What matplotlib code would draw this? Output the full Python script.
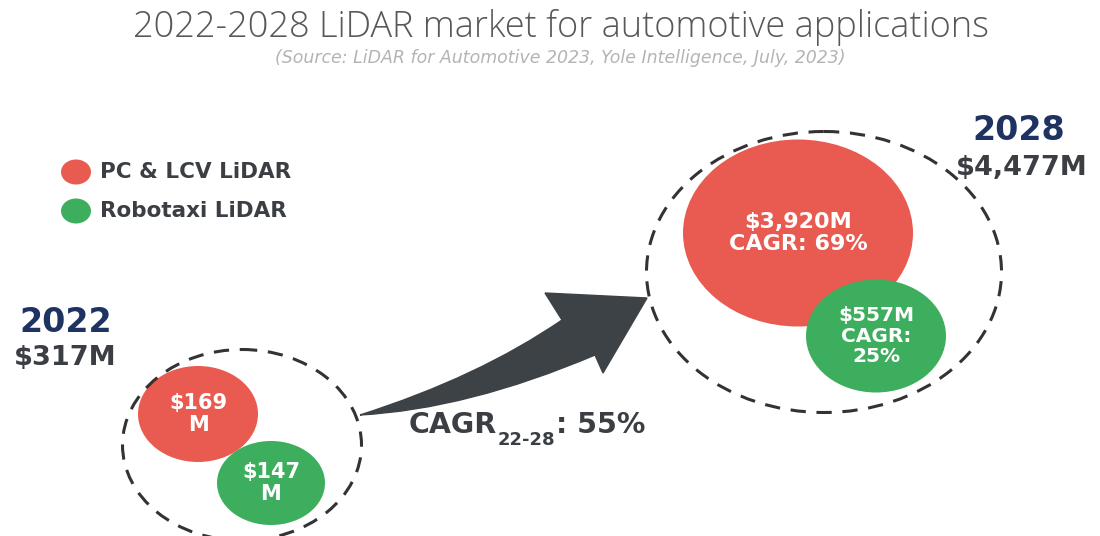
import matplotlib
matplotlib.use("Agg")
import matplotlib.pyplot as plt
from matplotlib.patches import Ellipse, PathPatch
from matplotlib.path import Path

# ---- data ----
segments = ["PC & LCV LiDAR", "Robotaxi LiDAR"]
years = ["2022", "2028"]
values_2022 = [169, 147]          # $M
values_2028 = [3920, 557]         # $M
totals = [317, 4477]              # $M
segment_cagr = [69, 25]           # %
total_cagr = 55                   # %
title = "2022-2028 LiDAR market for automotive applications"
source = "(Source: LiDAR for Automotive 2023, Yole Intelligence, July, 2023)"

# ---- style ----
RED = "#E95A50"
GREEN = "#3DAE5E"
NAVY = "#1E3362"
DARK = "#3B3F44"
DASH = "#333333"
BOLD_FONT = ["DejaVu Sans"]
LIGHT_FONT = ["Open Sans", "DejaVu Sans"]

fig = plt.figure(figsize=(11, 5.36), dpi=100)
ax = fig.add_axes([0, 0, 1, 1])
ax.set_xlim(0, 1100)
ax.set_ylim(536, 0)
ax.axis("off")

# title
ax.text(561, 28, title, ha="center", va="center", fontsize=26, color="#585858",
        family=LIGHT_FONT, fontweight="light")
ax.text(560, 58, source, ha="center", va="center", fontsize=12.5, color="#B4B4B4",
        family=["DejaVu Sans"], style="italic")

# legend
for i, (seg, col) in enumerate(zip(segments, [RED, GREEN])):
    y = 172 + i * 39
    ax.add_patch(Ellipse((76, y), 30, 25, color=col, lw=0))
    ax.text(100, y, seg, ha="left", va="center", fontsize=15.5, color=DARK,
            family=BOLD_FONT, fontweight="bold")

# layout for bubbles
groups = [
    dict(outer=(242, 445, 239, 191), bub=[(198, 414, 120, 96), (271, 483, 108, 84)],
         fs=[15, 15], year_xy=(66, 322), tot_xy=(65, 358), ha="center"),
    dict(outer=(824, 272, 355, 281), bub=[(798, 233, 230, 187), (876, 336, 140, 113)],
         fs=[16, 14.5], year_xy=(1019, 130), tot_xy=(1022, 168), ha="center"),
]
vals = [values_2022, values_2028]

for gi, g in enumerate(groups):
    cx, cy, w, h = g["outer"]
    ax.add_patch(Ellipse((cx, cy), w, h, fill=False, ec=DASH, lw=2.2,
                         linestyle=(0, (5, 3.5)), zorder=3))
    for si, (bx, by, bw, bh) in enumerate(g["bub"]):
        col = [RED, GREEN][si]
        ax.add_patch(Ellipse((bx, by), bw, bh, color=col, lw=0, zorder=2))
        v = vals[gi][si]
        if gi == 0:
            lab = f"${v:,}\nM"
        elif si == 0:
            lab = f"${v:,}M\nCAGR: {segment_cagr[si]}%"
        else:
            lab = f"${v:,}M\nCAGR:\n{segment_cagr[si]}%"
        ax.text(bx, by, lab, ha="center", va="center", fontsize=g["fs"][si],
                color="white", family=BOLD_FONT, fontweight="bold",
                linespacing=1.1, zorder=4)
    ax.text(*g["year_xy"], years[gi], ha=g["ha"], va="center", fontsize=24,
            color=NAVY, family=BOLD_FONT, fontweight="bold")
    ax.text(*g["tot_xy"], f"${totals[gi]:,}M", ha=g["ha"], va="center", fontsize=19.5,
            color=DARK, family=BOLD_FONT, fontweight="bold")

# curved arrow
verts = [(360, 415), (479, 377), (562, 320), (545, 293), (647, 298),
         (603, 373), (595, 355), (468, 409), (360, 415)]
codes = [Path.MOVETO, Path.CURVE3, Path.CURVE3, Path.LINETO, Path.LINETO,
         Path.LINETO, Path.LINETO, Path.CURVE3, Path.CURVE3]
ax.add_patch(PathPatch(Path(verts, codes), fc="#3D4247", ec="#3D4247", lw=1, zorder=1))

# CAGR label with subscript
t1 = ax.text(409, 433, "CAGR", ha="left", va="baseline", fontsize=20.5, color=DARK,
             family=BOLD_FONT, fontweight="bold")
t2 = ax.annotate("22-28", xy=(1, 0), xycoords=t1, xytext=(0.5, -1), textcoords="offset points",
                 ha="left", va="center", fontsize=13, color=DARK,
                 family=BOLD_FONT, fontweight="bold")
t3 = ax.annotate(f": {total_cagr}%", xy=(1, 0), xycoords=(t2, t1), xytext=(0, 0),
                 textcoords="offset points", ha="left", va="bottom", fontsize=20.5,
                 color=DARK, family=BOLD_FONT, fontweight="bold")

fig.savefig("out.png", dpi=100, facecolor="white")
